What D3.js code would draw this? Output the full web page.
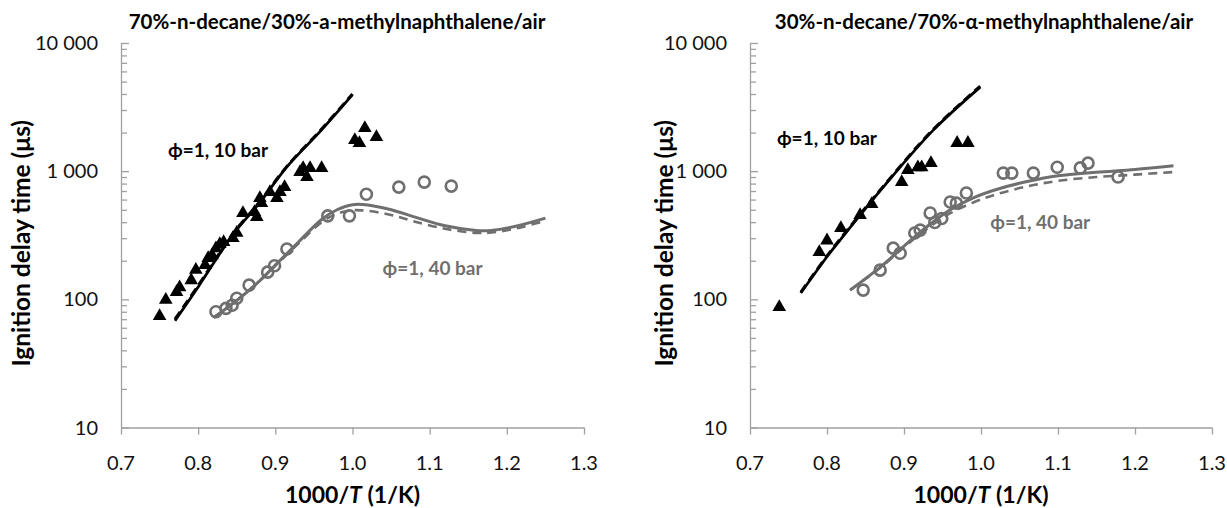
<!DOCTYPE html>
<html><head><meta charset="utf-8">
<script src="https://cdn.jsdelivr.net/npm/d3@7"></script>
<style>
body{margin:0;background:#fff;}
text{font-family:Lato,"Open Sans",sans-serif;}
</style></head>
<body><svg id="c" width="1227" height="508"></svg>
<script>
// ---------- DATA ----------
const xTicks = [0.7,0.8,0.9,1.0,1.1,1.2,1.3];
const xTickLabels = ["0.7","0.8","0.9","1.0","1.1","1.2","1.3"];
const yTicks = [10,100,1000,10000];
const yTickLabels = ["10","100","1 000","10 000"];
const titles = ["70%-n-decane/30%-a-methylnaphthalene/air","30%-n-decane/70%-\u03b1-methylnaphthalene/air"];

// Left panel: 70% n-decane
const L_tri_x = [0.750,0.758,0.772,0.776,0.791,0.797,0.809,0.813,0.818,0.823,0.828,0.833,0.845,0.850,0.858,0.873,0.876,0.880,0.882,0.893,0.902,0.906,0.912,0.932,0.936,0.941,0.945,0.960,1.003,1.009,1.016,1.031];
const L_tri_y = [74,99,114,124,141,170,185,210,220,250,270,280,300,330,471,480,439,617,563,687,617,687,752,984,1057,899,1057,1057,1750,1656,2168,1845];
const L_cir_x = [0.823,0.836,0.844,0.850,0.866,0.890,0.899,0.915,0.968,0.996,1.018,1.060,1.093,1.128];
const L_cir_y = [80,85,90,102,129,163,183,247,448,448,660,751,822,765];
const L_m10_x = [0.77,0.80,0.845,0.88,0.915,0.96,1.00];
const L_m10_solid = [68,125,320,570,1080,2100,3950];
const L_m10_dash  = [70,128,325,580,1090,2130,4000];
const L_m40_x = [0.82,0.85,0.88,0.90,0.93,0.96,0.98,1.00,1.02,1.05,1.08,1.12,1.16,1.18,1.21,1.25];
const L_m40_solid = [72,98,140,185,280,420,500,548,545,500,440,375,345,345,370,430];
const L_m40_dash  = [72,98,140,183,272,400,465,495,490,455,405,355,330,332,355,410];

// Right panel: 30% n-decane
const R_tri_x = [0.738,0.790,0.800,0.818,0.843,0.858,0.897,0.905,0.918,0.923,0.935,0.969,0.983];
const R_tri_y = [87,234,288,360,454,553,822,1019,1073,1073,1156,1660,1660];
const R_cir_x = [0.847,0.869,0.886,0.895,0.914,0.921,0.934,0.940,0.949,0.960,0.968,0.981,1.029,1.040,1.068,1.099,1.129,1.139,1.178];
const R_cir_y = [118,169,251,229,329,347,471,398,427,575,563,676,966,966,966,1073,1060,1156,900];
const R_m10_x = [0.766,0.80,0.817,0.873,0.938,0.999];
const R_m10_solid = [112,215,290,750,2090,4530];
const R_m10_dash  = [114,218,295,760,2120,4600];
const R_m40_x = [0.83,0.87,0.90,0.93,0.96,0.99,1.02,1.06,1.10,1.15,1.20,1.25];
const R_m40_solid = [118,180,260,370,500,620,720,830,920,980,1030,1100];
const R_m40_dash  = [118,178,255,355,470,570,660,760,840,900,940,985];

const labels10 = [[0.761,1450],[0.735,1800]];
const labels40 = [[1.039,175],[1.012,400]];

// ---------- DRAW ----------
const svg = d3.select("#c");
const gray = "#6f6f6f", axisCol = "#a0a0a0";
const panels = [
  {x0:121,x1:584, tri:[L_tri_x,L_tri_y], cir:[L_cir_x,L_cir_y], m10:[L_m10_x,L_m10_solid,L_m10_dash], m40:[L_m40_x,L_m40_solid,L_m40_dash], ytitleX:21, titleX:337, title:titles[0], l10:labels10[0], l40:labels40[0]},
  {x0:750,x1:1212, tri:[R_tri_x,R_tri_y], cir:[R_cir_x,R_cir_y], m10:[R_m10_x,R_m10_solid,R_m10_dash], m40:[R_m40_x,R_m40_solid,R_m40_dash], ytitleX:664, titleX:984, title:titles[1], l10:labels10[1], l40:labels40[1]}
];
const y0 = 427.5, y1 = 43;
panels.forEach(p=>{
  const x = d3.scaleLinear().domain([0.7,1.3]).range([p.x0,p.x1]);
  const y = d3.scaleLog().domain([10,10000]).range([y0,y1]);
  const g = svg.append("g");
  // y axis
  const minor = [];
  [10,100,1000].forEach(d=>{for(let k=2;k<=9;k++) minor.push(d*k);});
  const ya = d3.axisRight(y).tickValues(minor).tickSize(6).tickFormat("");
  const yg = g.append("g").attr("transform",`translate(${p.x0},0)`).call(ya);
  const yb = d3.axisRight(y).tickValues(yTicks).tickSize(8).tickFormat("");
  const yg2 = g.append("g").attr("transform",`translate(${p.x0},0)`).call(yb);
  [yg,yg2].forEach(s=>{s.selectAll("path,line").attr("stroke",axisCol).attr("stroke-width",1.3);});
  yg2.select(".domain").remove(); yg.select(".domain").attr("d",`M0.5,${y0}V${y1}`);
  yTicks.forEach((t,i)=>{
    g.append("text").attr("x",p.x0-23).attr("y",y(t)).attr("dy","0.35em").attr("text-anchor","end")
     .attr("font-size",20).attr("fill","#111").text(yTickLabels[i]);
  });
  // x axis
  const xa = d3.axisBottom(x).tickValues(xTicks).tickSize(7).tickFormat("");
  const xg = g.append("g").attr("transform",`translate(0,${y0})`).call(xa);
  xg.selectAll("path,line").attr("stroke",axisCol).attr("stroke-width",1.3);
  xg.select(".domain").attr("d",`M${p.x0},0.5H${p.x1}`);
  xTicks.forEach((t,i)=>{
    g.append("text").attr("x",x(t)).attr("y",463).attr("dy","0.35em").attr("text-anchor","middle")
     .attr("font-size",20).attr("fill","#111").text(xTickLabels[i]);
  });
  // titles
  const xt = g.append("text").attr("x",(p.x0+p.x1)/2).attr("y",495).attr("dy","0.35em").attr("text-anchor","middle")
   .attr("font-size",23).attr("font-weight","bold").attr("fill","#000");
  xt.append("tspan").text("1000/");
  xt.append("tspan").attr("font-style","italic").text("T");
  xt.append("tspan").text(" (1/K)");
  g.append("text").attr("transform",`translate(${p.ytitleX},${(y0+y1)/2+8}) rotate(-90)`).attr("dy","0.35em")
   .attr("text-anchor","middle").attr("font-size",24.5).attr("font-weight","bold").attr("fill","#000")
   .text("Ignition delay time (\u03bcs)");
  g.append("text").attr("x",p.titleX).attr("y",22).attr("dy","0.35em").attr("text-anchor","middle")
   .attr("font-size",20.5).attr("font-weight","bold").attr("fill","#000").text(p.title);
  // model lines
  const line = (xs,ys)=>d3.line().curve(d3.curveCatmullRom)(xs.map((v,i)=>[x(v),y(ys[i])]));
  g.append("path").attr("d",line(p.m40[0],p.m40[2])).attr("fill","none").attr("stroke",gray).attr("stroke-width",2.6).attr("stroke-dasharray","9,6");
  g.append("path").attr("d",line(p.m40[0],p.m40[1])).attr("fill","none").attr("stroke",gray).attr("stroke-width",3);
  g.append("path").attr("d",line(p.m10[0],p.m10[2])).attr("fill","none").attr("stroke","#000").attr("stroke-width",3).attr("stroke-dasharray","9,5");
  g.append("path").attr("d",line(p.m10[0],p.m10[1])).attr("fill","none").attr("stroke","#000").attr("stroke-width",2.8);
  // markers
  const tri = d3.symbol().type(d3.symbolTriangle).size(80);
  g.selectAll(".tri").data(p.tri[0].map((v,i)=>[v,p.tri[1][i]])).join("path")
   .attr("d",tri).attr("transform",d=>`translate(${x(d[0])},${y(d[1])})`).attr("fill","#000");
  g.selectAll(".cir").data(p.cir[0].map((v,i)=>[v,p.cir[1][i]])).join("circle")
   .attr("cx",d=>x(d[0])).attr("cy",d=>y(d[1])).attr("r",5.5).attr("fill","none").attr("stroke",gray).attr("stroke-width",2.6);
  // annotations
  g.append("text").attr("x",x(p.l10[0])).attr("y",y(p.l10[1])).attr("dy","0.35em").attr("font-size",19).attr("font-weight","bold").attr("fill","#000").text("\u03d5=1, 10 bar");
  g.append("text").attr("x",x(p.l40[0])).attr("y",y(p.l40[1])).attr("dy","0.35em").attr("font-size",19).attr("font-weight","bold").attr("fill",gray).text("\u03d5=1, 40 bar");
});
</script></body></html>
